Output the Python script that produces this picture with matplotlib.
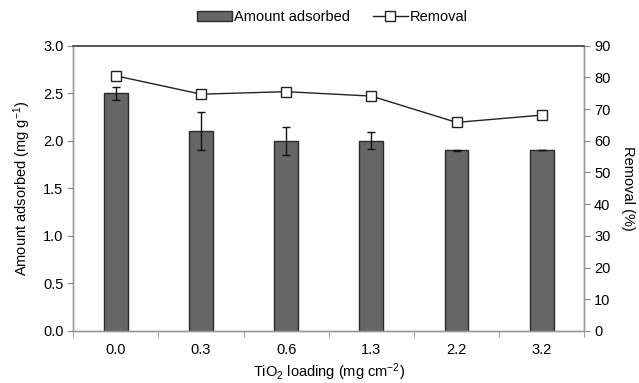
import matplotlib
matplotlib.use("Agg")
import matplotlib.pyplot as plt
import numpy as np

plt.rcParams["font.family"] = ["Liberation Sans", "DejaVu Sans"]
plt.rcParams["mathtext.fontset"] = "custom"
plt.rcParams["mathtext.rm"] = "Liberation Sans"
plt.rcParams["mathtext.default"] = "regular"
plt.rcParams["font.size"] = 10.5

# Data
loading = ["0.0", "0.3", "0.6", "1.3", "2.2", "3.2"]
adsorbed = [2.50, 2.10, 2.00, 2.00, 1.90, 1.90]
adsorbed_err = [0.07, 0.20, 0.145, 0.09, 0.005, 0.0]
removal = [80.5, 74.7, 75.5, 74.1, 65.8, 68.1]

x = np.arange(len(loading))

fig = plt.figure(figsize=(6.39, 3.83), dpi=100)
ax = fig.add_axes([0.1147, 0.1358, 0.7997, 0.7449])
ax2 = ax.twinx()

bars = ax.bar(x, adsorbed, width=0.28, color="#666666", edgecolor="#2a2a2a",
              linewidth=1.0, label="Amount adsorbed", zorder=2)
ax.errorbar(x, adsorbed, yerr=adsorbed_err, fmt="none", ecolor="#111111",
            elinewidth=1.0, capsize=3, capthick=1.0, zorder=3)

line, = ax2.plot(x, removal, color="#222222", linewidth=1.0, marker="s",
                 markersize=7, markerfacecolor="white", markeredgecolor="#222222",
                 markeredgewidth=1.0, label="Removal", zorder=4)

ax.set_xlim(-0.5, len(loading) - 0.5)
ax.set_ylim(0, 3.0)
ax.set_yticks(np.arange(0, 3.01, 0.5))
ax.set_yticklabels([f"{v:.1f}" for v in np.arange(0, 3.01, 0.5)])
ax2.set_ylim(0, 90)
ax2.set_yticks(np.arange(0, 91, 10))

ax.set_xticks(x)
ax.set_xticklabels(loading)
ax.set_xticks(np.arange(-0.5, len(loading)), minor=True)
ax.tick_params(axis="x", which="major", length=0, pad=9)
ax.tick_params(axis="x", which="minor", length=4, color="#888888", direction="out")
ax.tick_params(axis="y", length=4, color="#888888", direction="out", pad=3)
ax2.tick_params(axis="y", length=4, color="#888888", direction="out", pad=3)

for a in (ax, ax2):
    for s in ("left", "right", "bottom"):
        a.spines[s].set_color("#999999")
        a.spines[s].set_linewidth(1.0)
    a.spines["top"].set_color("#555555")
    a.spines["top"].set_linewidth(1.2)

ax.set_xlabel("TiO$_2$ loading (mg cm$^{-2}$)", labelpad=3)
ax.set_ylabel("Amount adsorbed (mg g$^{-1}$)", labelpad=7)
ax2.set_ylabel("Removal (%)", rotation=270, labelpad=18)

fig.legend([bars, line], ["Amount adsorbed", "Removal"], loc="center",
           bbox_to_anchor=(0.52, 0.955), ncol=2, frameon=False,
           handlelength=2.4, handletextpad=0.1, columnspacing=1.6)

plt.savefig("out.png", dpi=100)
